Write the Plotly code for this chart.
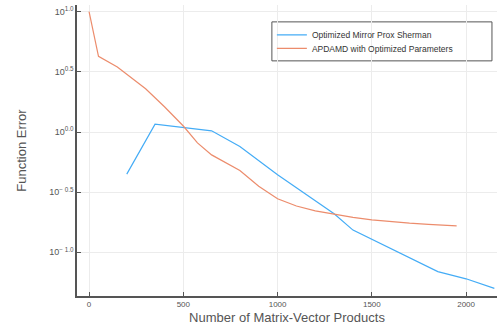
import plotly.graph_objects as go

# Optimized Mirror Prox Sherman
mp_x = [200, 350, 650, 800, 1000, 1150, 1300, 1400, 1850, 2000, 2150]
mp_log = [-0.35, 0.065, 0.01, -0.12, -0.355, -0.52, -0.68, -0.815, -1.16, -1.22, -1.30]

# APDAMD with Optimized Parameters
ap_x = [0, 50, 150, 300, 400, 500, 575, 650, 800, 900, 1000, 1100, 1200, 1300, 1400,
        1500, 1600, 1700, 1800, 1950]
ap_log = [1.0, 0.63, 0.54, 0.36, 0.21, 0.05, -0.09, -0.19, -0.32, -0.45, -0.555, -0.615,
          -0.655, -0.685, -0.71, -0.73, -0.745, -0.757, -0.767, -0.78]

mp_y = [10 ** v for v in mp_log]
ap_y = [10 ** v for v in ap_log]

ytick_exp = [1.0, 0.5, 0.0, -0.5, -1.0]
ytick_text = ["10<sup>1.0</sup>", "10<sup>0.5</sup>", "10<sup>0.0</sup>",
              "10<sup>− 0.5</sup>", "10<sup>− 1.0</sup>"]
xtick_vals = [0, 500, 1000, 1500, 2000]

FONT = "Liberation Sans, Arial, sans-serif"

fig = go.Figure()
fig.add_trace(go.Scatter(x=mp_x, y=mp_y, mode="lines", name="Optimized Mirror Prox Sherman",
                         line=dict(color="#44acf6", width=1.2), legend="legend"))
fig.add_trace(go.Scatter(x=ap_x, y=ap_y, mode="lines", name="APDAMD with Optimized Parameters",
                         line=dict(color="#ec8c6c", width=1.2), legend="legend2"))

axis_common = dict(showgrid=True, gridcolor="#ececec", gridwidth=1, zeroline=False,
                   showline=True, linecolor="#555555", linewidth=1.5, automargin=False,
                   ticks="inside", ticklen=4, tickcolor="#555555", mirror=False)

legend_common = dict(xanchor="left", yanchor="middle", bgcolor="rgba(0,0,0,0)",
                     borderwidth=0, font=dict(size=8.5, color="#333333", family=FONT),
                     itemwidth=30)

fig.update_layout(
    width=500, height=332,
    margin=dict(l=77, r=3, t=5, b=36),
    paper_bgcolor="white", plot_bgcolor="white",
    font=dict(family=FONT, color="#444444"),
    xaxis=dict(range=[-64, 2164], tickvals=xtick_vals,
               tickfont=dict(size=8, color="#555555", family=FONT),
               title=dict(text="Number of Matrix-Vector Products", font=dict(size=13, color="#555555"), standoff=5),
               **axis_common),
    yaxis=dict(type="log", range=[-1.363, 1.056], tickvals=[10 ** e for e in ytick_exp],
               ticktext=ytick_text,
               tickfont=dict(size=9, color="#555555", family=FONT),
               title=dict(text="Function Error", font=dict(size=13, color="#555555"), standoff=20),
               **axis_common),
    showlegend=True,
    legend=dict(x=0.464, y=0.897, **legend_common),
    legend2=dict(x=0.464, y=0.851, **legend_common),
    shapes=[dict(type="rect", xref="paper", yref="paper", x0=0.464, x1=0.988, y0=0.808, y1=0.942,
                 line=dict(color="#555555", width=1), fillcolor="white", layer="below")],
)

fig.write_html("out.html", config={"displayModeBar": False},
               post_script="document.body.style.margin='0';document.body.style.overflow='hidden';")
